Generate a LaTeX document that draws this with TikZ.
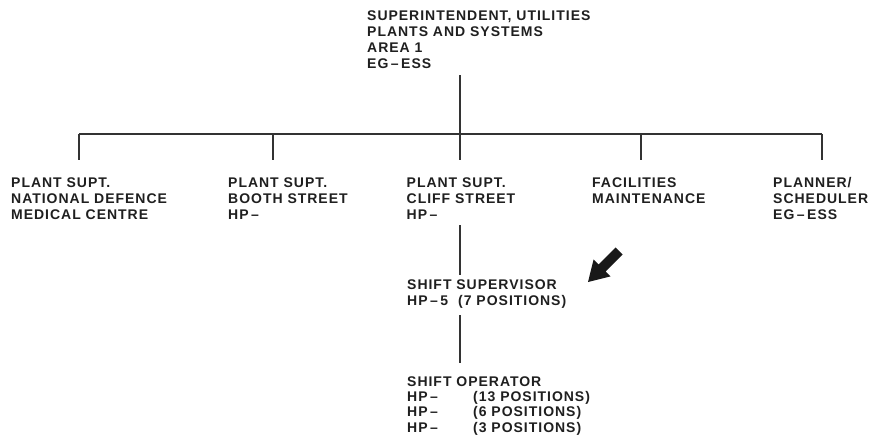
\documentclass[tikz,border=0pt]{standalone}
\usepackage{fontspec}
\setmainfont{Liberation Sans}[LetterSpace=7]
\newcommand{\dsh}{\hspace{2.5pt}–\hspace{2.5pt}}
\begin{document}
\begin{tikzpicture}[x=1pt,y=-1pt,
  lbl/.style={anchor=base west,inner sep=0pt,align=left,text=black!88,
    font=\fontsize{14}{16}\selectfont\bfseries},
  conn/.style={draw=black!80,line width=1.2pt}]
\useasboundingbox (0,0) rectangle (874,445);
% nodes (anchored at the baseline of their last line)
\node[lbl] (top) at (367,68.5) {SUPERINTENDENT, UTILITIES\\PLANTS AND SYSTEMS\\AREA 1\\EG\dsh ESS};
\node[lbl] (n1) at (11,219) {PLANT SUPT.\\NATIONAL DEFENCE\\MEDICAL CENTRE};
\node[lbl] (n2) at (228,219) {PLANT SUPT.\\BOOTH STREET\\HP\dsh};
\node[lbl] (n3) at (406.5,219) {PLANT SUPT.\\CLIFF STREET\\HP\dsh};
\node[lbl] (n4) at (592,203) {FACILITIES\\MAINTENANCE};
\node[lbl] (n5) at (773,219) {PLANNER/\\SCHEDULER\\EG\dsh ESS};
\node[lbl] (sup) at (407,305) {SHIFT SUPERVISOR\\\makebox[51pt][l]{HP\dsh 5}(7 POSITIONS)};
\node[lbl,font=\fontsize{14}{15.2}\selectfont\bfseries] (op) at (407,432) {SHIFT OPERATOR\\\makebox[66pt][l]{HP\dsh}(13 POSITIONS)\\\makebox[66pt][l]{HP\dsh}(6 POSITIONS)\\\makebox[66pt][l]{HP\dsh}(3 POSITIONS)};
% connector points
\coordinate (t0) at (460,75);
\coordinate (bus) at (460,134);
\coordinate (b1) at (79,134);
\coordinate (b2) at (273,134);
\coordinate (b4) at (641,134);
\coordinate (b5) at (822,134);
\coordinate (e1) at (79,160);
\coordinate (e2) at (273,160);
\coordinate (e3) at (460,160);
\coordinate (e4) at (641,160);
\coordinate (e5) at (822,160);
\coordinate (c1) at (460,225);
\coordinate (c2) at (460,275);
\coordinate (s1) at (460,315);
\coordinate (s2) at (460,363);
% connectors
\draw[conn] (t0) -- (bus);
\draw[conn] (b1) -- (b5);
\draw[conn] (b1) -- (e1);
\draw[conn] (b2) -- (e2);
\draw[conn] (bus) -- (e3);
\draw[conn] (b4) -- (e4);
\draw[conn] (b5) -- (e5);
\draw[conn] (c1) -- (c2);
\draw[conn] (s1) -- (s2);
% arrow
\fill[black!90] (588,282) -- (610.6,276.4) -- (605.6,271.4) -- (622.6,254.4)
  -- (615.6,247.4) -- (598.6,264.4) -- (593.6,259.4) -- cycle;
\end{tikzpicture}
\end{document}
